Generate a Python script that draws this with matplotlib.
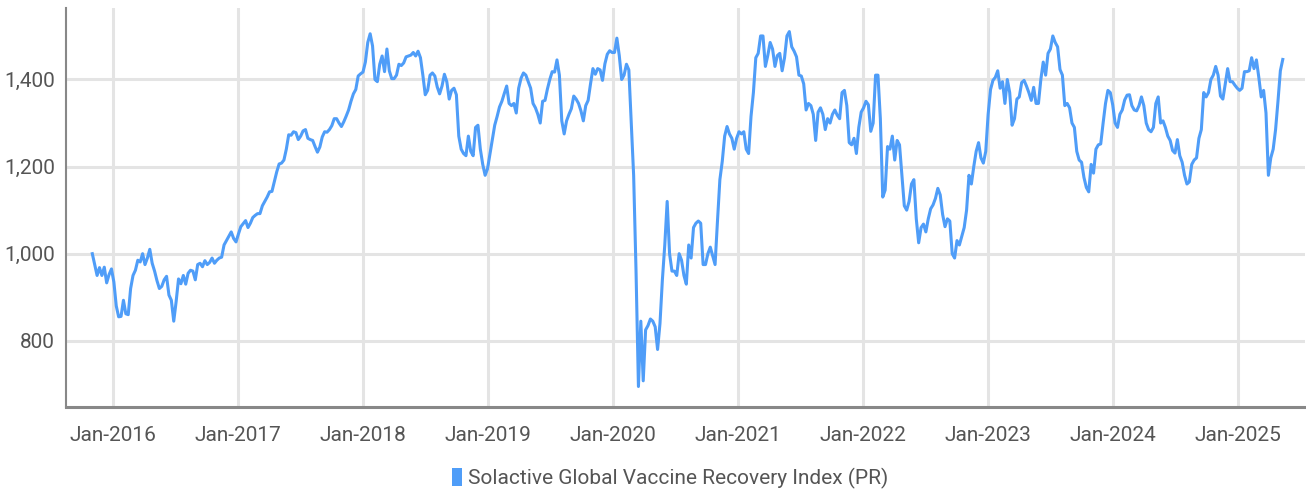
import numpy as np
import pandas as pd
import matplotlib
matplotlib.use("Agg")
import matplotlib.pyplot as plt
import matplotlib.dates as mdates
from matplotlib.patches import Patch
from matplotlib.ticker import FuncFormatter

# weekly index levels, starting early Nov 2015
start_date = "2015-11-02"
values = [
    1000, 975, 950, 968, 950, 969, 933, 952, 965, 935,
    880, 855, 856, 893, 862, 860, 920, 950, 962, 985,
    981, 1000, 975, 990, 1010, 978, 960, 938, 920, 925,
    940, 948, 905, 893, 845, 890, 942, 931, 950, 930,
    955, 962, 960, 940, 975, 978, 970, 984, 975, 980,
    990, 978, 985, 990, 992, 1020, 1030, 1040, 1050, 1035,
    1027, 1045, 1062, 1069, 1076, 1060, 1070, 1083, 1088, 1092,
    1092, 1110, 1120, 1130, 1142, 1143, 1165, 1188, 1206, 1208,
    1215, 1240, 1273, 1272, 1280, 1278, 1262, 1270, 1282, 1285,
    1265, 1262, 1260, 1246, 1233, 1245, 1268, 1280, 1279, 1285,
    1294, 1310, 1310, 1300, 1292, 1303, 1316, 1330, 1350, 1367,
    1377, 1408, 1413, 1417, 1440, 1485, 1505, 1477, 1400, 1395,
    1435, 1454, 1418, 1470, 1420, 1402, 1402, 1410, 1435, 1432,
    1438, 1452, 1454, 1456, 1462, 1454, 1465, 1450, 1410, 1365,
    1375, 1410, 1415, 1408, 1383, 1367, 1385, 1412, 1395, 1355,
    1375, 1380, 1365, 1270, 1240, 1230, 1225, 1270, 1235, 1225,
    1290, 1295, 1240, 1205, 1180, 1195, 1228, 1262, 1295, 1315,
    1337, 1350, 1368, 1385, 1345, 1340, 1345, 1323, 1380, 1403,
    1415, 1410, 1395, 1380, 1345, 1335, 1320, 1300, 1350, 1352,
    1378, 1400, 1418, 1417, 1445, 1410, 1305, 1275, 1305, 1320,
    1333, 1362, 1355, 1345, 1328, 1305, 1340, 1352, 1390, 1425,
    1412, 1425, 1422, 1398, 1436, 1458, 1466, 1462, 1462, 1495,
    1455, 1400, 1410, 1435, 1422, 1300, 1180, 960, 695, 845,
    708, 825, 835, 850, 845, 832, 780, 840, 940, 1020,
    1120, 1000, 960, 960, 950, 1000, 985, 950, 930, 1020,
    990, 1060, 1070, 1075, 1070, 975, 975, 1000, 1015, 995,
    975, 1075, 1170, 1212, 1270, 1292, 1275, 1265, 1240, 1265,
    1280, 1275, 1280, 1240, 1230, 1315, 1370, 1450, 1460, 1500,
    1500, 1430, 1455, 1485, 1470, 1430, 1455, 1460, 1420, 1450,
    1500, 1510, 1475, 1465, 1452, 1410, 1408, 1390, 1330, 1345,
    1340, 1320, 1260, 1325, 1335, 1320, 1285, 1310, 1300, 1320,
    1330, 1318, 1310, 1370, 1375, 1340, 1255, 1250, 1265, 1230,
    1290, 1325, 1335, 1350, 1342, 1281, 1300, 1410, 1410, 1310,
    1130, 1146, 1246, 1240, 1270, 1215, 1260, 1250, 1180, 1110,
    1100, 1120, 1160, 1170, 1080, 1025, 1060, 1068, 1050, 1080,
    1103, 1112, 1127, 1150, 1135, 1090, 1062, 1080, 1075, 1000,
    990, 1030, 1020, 1040, 1060, 1100, 1180, 1160, 1200, 1235,
    1255, 1220, 1208, 1235, 1320, 1377, 1398, 1405, 1420, 1380,
    1395, 1345, 1400, 1370, 1295, 1310, 1355, 1360, 1393, 1398,
    1385, 1370, 1352, 1382, 1345, 1345, 1400, 1440, 1410, 1460,
    1470, 1500, 1485, 1475, 1423, 1410, 1340, 1345, 1335, 1300,
    1290, 1235, 1215, 1210, 1175, 1152, 1142, 1205, 1185, 1240,
    1250, 1252, 1300, 1345, 1375, 1370, 1342, 1300, 1290, 1320,
    1330, 1353, 1364, 1365, 1340, 1330, 1328, 1340, 1360, 1340,
    1300, 1285, 1280, 1290, 1345, 1360, 1300, 1305, 1290, 1270,
    1260, 1237, 1231, 1262, 1225, 1210, 1180, 1160, 1165, 1205,
    1215, 1220, 1265, 1285, 1370, 1360, 1370, 1400, 1410, 1430,
    1410, 1362, 1355, 1390, 1425, 1395, 1395, 1387, 1380, 1375,
    1380, 1418, 1418, 1420, 1450, 1425, 1445, 1405, 1360, 1375,
    1323, 1180, 1220, 1240, 1285, 1350, 1420, 1446,
]
dates = pd.date_range(start_date, periods=len(values), freq="7D")

series_name = "Solactive Global Vaccine Recovery Index (PR)"
y_ticks = [800, 1000, 1200, 1400]
x_tick_years = list(range(2016, 2026))

plt.rcParams['font.family'] = ['Roboto', 'DejaVu Sans']

line_color = "#4f9df8"
text_color = "#555555"
grid_color = "#e4e4e4"
spine_color = "#888888"

fig = plt.figure(figsize=(13.06, 4.93), dpi=100)
ax = fig.add_axes([0.0505, 0.1745, 0.949, 0.81])

ax.plot(dates, values, color=line_color, lw=2.2, solid_joinstyle="round")

ax.set_ylim(648, 1565)
ax.set_xlim(pd.Timestamp("2015-08-17"), pd.Timestamp("2025-07-17"))

ax.set_yticks(y_ticks)
ax.yaxis.set_major_formatter(FuncFormatter(lambda v, p: f"{v:,.0f}"))
ax.set_xticks([pd.Timestamp(f"{y}-01-01") for y in x_tick_years])
ax.xaxis.set_major_formatter(mdates.DateFormatter("%b-%Y"))

ax.grid(True, color=grid_color, lw=2.2)
ax.set_axisbelow(True)
ax.tick_params(length=0, labelsize=15, colors=text_color)
ax.tick_params(axis="x", pad=14)
ax.tick_params(axis="y", pad=8)

for s in ["top", "right"]:
    ax.spines[s].set_visible(False)
ax.spines["left"].set_color(spine_color)
ax.spines["left"].set_linewidth(1.5)
ax.spines["bottom"].set_color(spine_color)
ax.spines["bottom"].set_linewidth(2.2)

handle = Patch(facecolor=line_color, edgecolor="none")
fig.legend([handle], [series_name], loc="center", bbox_to_anchor=(0.513, 0.03),
           frameon=False, fontsize=15, handlelength=0.5, handleheight=1.0,
           handletextpad=0.3, labelcolor=text_color)

fig.savefig("out.png", dpi=100)
